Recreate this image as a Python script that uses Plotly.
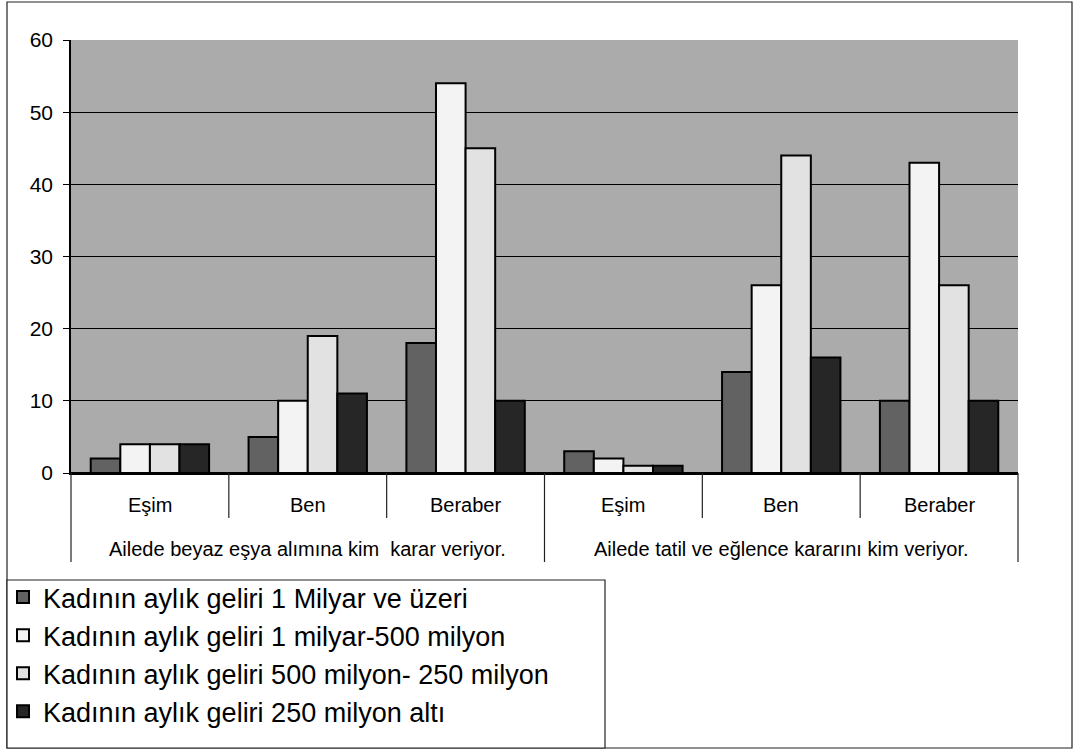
import plotly.graph_objects as go

# Question groups (outer level) and answers (inner level)
question_groups = [
    "Ailede beyaz eşya alımına kim\u00a0 karar veriyor.",
    "Ailede tatil ve eğlence kararını kim veriyor.",
]
answers = ["Eşim", "Ben", "Beraber"]

# Series names (monthly income of the woman)
series_names = [
    "Kadının aylık geliri 1 Milyar ve üzeri",
    "Kadının aylık geliri 1 milyar-500 milyon",
    "Kadının aylık geliri 500 milyon- 250 milyon",
    "Kadının aylık geliri 250 milyon altı",
]

# Values per series, ordered: group 1 (Eşim, Ben, Beraber), group 2 (Eşim, Ben, Beraber)
gelir_1_milyar_ve_uzeri = [2, 5, 18, 3, 14, 10]
gelir_1_milyar_500_milyon = [4, 10, 54, 2, 26, 43]
gelir_500_250_milyon = [4, 19, 45, 1, 44, 26]
gelir_250_milyon_alti = [4, 11, 10, 1, 16, 10]

y_tick_values = [0, 10, 20, 30, 40, 50, 60]

series_values = [
    gelir_1_milyar_ve_uzeri,
    gelir_1_milyar_500_milyon,
    gelir_500_250_milyon,
    gelir_250_milyon_alti,
]
bar_colors = ["#626262", "#f3f3f3", "#e2e2e2", "#262626"]

outer = [g for g in question_groups for _ in answers]
inner = [a for _ in question_groups for a in answers]
n_cat = len(inner)
n_ans = len(answers)

FONT = "Arial, 'Liberation Sans', sans-serif"

fig = go.Figure()
for name, vals, col in zip(series_names, series_values, bar_colors):
    fig.add_trace(go.Bar(
        x=[outer, inner],
        y=vals,
        name=name,
        marker=dict(color=col, line=dict(color="black", width=2)),
    ))

W, H = 1074, 752
ml, mr, mt, mb = 71, 56, 40, 279
pw, ph = W - ml - mr, H - mt - mb


def px_x(p):
    return (p - ml) / pw


def px_y(p):
    return (H - mb - p) / ph


shapes = []
# outer chart frame
shapes.append(dict(type="rect", xref="paper", yref="paper",
                   x0=px_x(7), x1=px_x(1072), y0=px_y(748), y1=px_y(2),
                   line=dict(color="#222", width=1.2), layer="below"))
# legend frame
shapes.append(dict(type="rect", xref="paper", yref="paper",
                   x0=px_x(7), x1=px_x(605), y0=px_y(748), y1=px_y(580),
                   line=dict(color="#222", width=1.2), fillcolor="white"))
# category boundary lines below the axis
for k in range(n_cat + 1):
    xb = k / n_cat
    is_outer = k % n_ans == 0
    shapes.append(dict(type="line", xref="paper", yref="paper",
                       x0=xb, x1=xb, y0=0, y1=px_y(562 if is_outer else 518),
                       line=dict(color="#222", width=1.2)))

# two-level category labels under the axis
annotations = []
for i, lab in enumerate(inner):
    annotations.append(dict(
        x=(i + 0.5) / n_cat, y=px_y(505), xref="paper", yref="paper",
        text=lab, showarrow=False, xanchor="center", yanchor="middle",
        font=dict(family=FONT, size=20, color="black"),
    ))
for g, lab in enumerate(question_groups):
    annotations.append(dict(
        x=(g * n_ans + n_ans / 2) / n_cat, y=px_y(549), xref="paper", yref="paper",
        text=lab, showarrow=False, xanchor="center", yanchor="middle",
        font=dict(family=FONT, size=20, color="black"),
    ))

fig.update_layout(
    width=W, height=H,
    margin=dict(l=ml, r=mr, t=mt, b=mb, autoexpand=False),
    paper_bgcolor="white",
    plot_bgcolor="#ababab",
    barmode="group",
    bargap=0.25,
    bargroupgap=0,
    font=dict(family=FONT, color="black", size=19),
    showlegend=True,
    legend=dict(
        x=px_x(3), y=px_y(573), xanchor="left", yanchor="top",
        font=dict(family=FONT, size=27, color="black"),
        bgcolor="rgba(0,0,0,0)",
        borderwidth=0,
        traceorder="normal",
    ),
    shapes=shapes,
    annotations=annotations,
)

fig.update_xaxes(
    type="multicategory",
    range=[-0.5, n_cat - 0.5],
    showdividers=False,
    showticklabels=False,
    showgrid=False,
    ticks="",
    automargin=False,
    showline=True, linecolor="black", linewidth=1.5,
)
fig.update_yaxes(
    range=[0, 60],
    tickvals=y_tick_values,
    automargin=False,
    showgrid=True, gridcolor="black", gridwidth=1,
    zeroline=True, zerolinecolor="black", zerolinewidth=1.5,
    showline=True, linecolor="black", linewidth=1.5,
    ticks="outside", ticklen=6, tickcolor="black",
    ticklabelstandoff=6,
    tickfont=dict(family=FONT, size=21, color="black"),
)

fig.write_html("out.html")
